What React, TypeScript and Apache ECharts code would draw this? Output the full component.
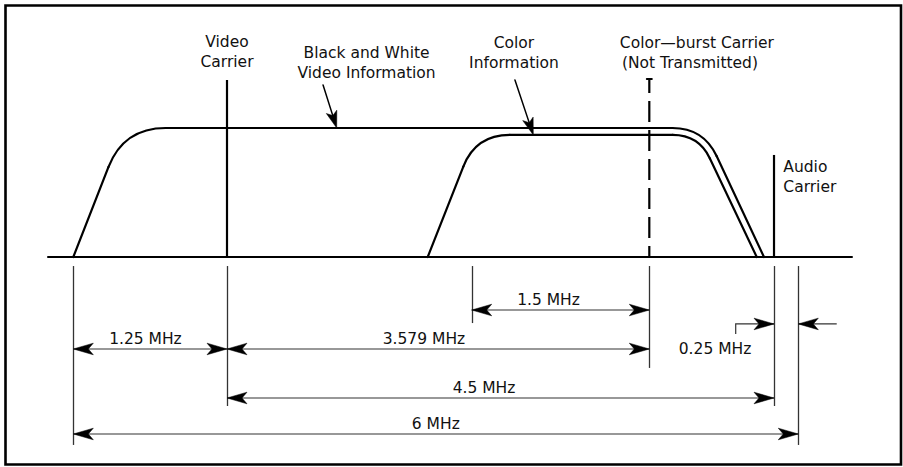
import React, { useEffect, useRef } from "react";
import * as echarts from "echarts";

// ---------------- DATA ----------------
// x: position along the channel in MHz (as drawn), y: relative level (baseline 0, B&W peak 1)
const baselineExtent = [-0.209, 6.444];

const spectrumNames = ["Black and White Video Information", "Color Information"];
const spectrumBaseLeft = [0, 2.933];
const spectrumTopLeft = [0.417, 3.331];
const spectrumTopRight = [5.215, 5.176];
const spectrumBaseRight = [5.716, 5.656];
const spectrumLevel = [1.0, 0.946];

const carrierNames = ["Video Carrier", "Color-burst Carrier", "Audio Carrier"];
const carrierFreq = [1.272, 4.767, 5.799];
const carrierHeight = [1.372, 1.38, 0.791];

const extensionFreq = [0, 1.272, 3.297, 4.767, 5.799, 6.0];
const extensionEnd = [-1.457, -1.155, -0.512, -0.86, -1.155, -1.457];
const extensionStart = -0.07;

const dimLabels = ["1.25 MHz", "3.579 MHz", "1.5 MHz", "4.5 MHz", "6 MHz"];
const dimFrom = [0, 1.272, 3.297, 1.272, 0];
const dimTo = [1.272, 4.767, 4.767, 5.799, 6.0];
const dimLevel = [-0.713, -0.713, -0.411, -1.093, -1.372];

const gapLabel = "0.25 MHz";
const gapFrom = 5.799;
const gapTo = 6.0;
const gapLevel = -0.519;

const annotationTexts = [
  "Video", "Carrier",
  "Black and White", "Video Information",
  "Color", "Information",
  "Color\u2014burst Carrier", "(Not Transmitted)",
  "Audio", "Carrier",
];

// ---------------- LAYOUT (anchors in data units) ----------------
const dimLabelAt = [0.597, 2.902, 3.933, 3.399, 3.0];
const gapHookAt = [5.482, -0.597];
const gapRightTail = 6.318;
const gapLabelAt = [5.311, -0.713];
const annotationX = [1.272, 1.272, 2.427, 2.427, 3.647, 3.647, 5.161, 5.103, 5.876, 5.876];
const annotationY = [1.667, 1.512, 1.581, 1.426, 1.659, 1.504, 1.659, 1.504, 0.698, 0.543];
const leaderFrom = [[2.067, 1.333], [3.655, 1.372]];
const leaderTo = [[2.18, 1.0], [3.807, 0.946]];

const W = 903;
const H = 467;
const FONT = "'DejaVu Sans', sans-serif";
const FS = 15.5;
const INK = "#000";
const THIN = "#333";
const cornerCut = [[42, 31], [34, 26]];

type P = number[];

function arrowHead(tip: P, from: P, L = 20, Wd = 5.8, N = 15) {
  const dx = tip[0] - from[0];
  const dy = tip[1] - from[1];
  const len = Math.hypot(dx, dy) || 1;
  const ux = dx / len;
  const uy = dy / len;
  const px = -uy;
  const py = ux;
  return {
    type: "polygon",
    shape: {
      points: [
        [tip[0], tip[1]],
        [tip[0] - ux * L + px * Wd, tip[1] - uy * L + py * Wd],
        [tip[0] - ux * N, tip[1] - uy * N],
        [tip[0] - ux * L - px * Wd, tip[1] - uy * L - py * Wd],
      ],
    },
    style: { fill: INK, stroke: INK, lineWidth: 0.5 },
  };
}

function seg(a: P, b: P, lineWidth: number, stroke = INK, extra: any = {}) {
  return {
    type: "line",
    shape: { x1: a[0], y1: a[1], x2: b[0], y2: b[1] },
    style: { stroke, lineWidth, lineCap: "round", ...extra },
  };
}

function along(from: P, to: P, d: number): P {
  const dx = to[0] - from[0];
  const dy = to[1] - from[1];
  const len = Math.hypot(dx, dy) || 1;
  return [from[0] + (dx / len) * d, from[1] + (dy / len) * d];
}

function text(str: string, p: P, align = "center") {
  return {
    type: "text",
    x: p[0],
    y: p[1],
    style: {
      text: str,
      fontFamily: FONT,
      fontSize: FS,
      fill: "#111",
      align,
      verticalAlign: "middle",
    },
  };
}

const base = {
  type: "custom",
  coordinateSystem: "cartesian2d",
  clip: false,
  silent: true,
};

function buildOption() {
  return {
    animation: false,
    backgroundColor: "#fff",
    grid: {
      left: 73.3,
      right: W - 798.3,
      top: 128,
      bottom: H - 257,
      containLabel: false,
      outerBoundsMode: "none",
    },
    xAxis: { type: "value", min: 0, max: 6, show: false },
    yAxis: { type: "value", min: 0, max: 1, show: false },
    graphic: [
      {
        type: "rect",
        silent: true,
        shape: { x: 5.5, y: 5.5, width: 895.5, height: 459 },
        style: { fill: "none", stroke: INK, lineWidth: 2.6 },
      },
    ],
    series: [
      {
        ...base,
        name: "Baseline",
        encode: { x: [0, 1] },
        data: [[baselineExtent[0], baselineExtent[1]]],
        renderItem: (_p: any, api: any) => {
          const a = api.coord([api.value(0), 0]);
          const b = api.coord([api.value(1), 0]);
          return seg(a, b, 2.2);
        },
      },
      {
        ...base,
        name: "Spectrum",
        encode: { x: [0, 1, 2, 3], y: 4 },
        data: spectrumNames.map((n, i) => ({
          name: n,
          value: [spectrumBaseLeft[i], spectrumTopLeft[i], spectrumTopRight[i], spectrumBaseRight[i], spectrumLevel[i]],
        })),
        renderItem: (params: any, api: any) => {
          const lvl = api.value(4);
          const p0 = api.coord([api.value(0), 0]);
          const p1 = api.coord([api.value(1), lvl]);
          const p2 = api.coord([api.value(2), lvl]);
          const p3 = api.coord([api.value(3), 0]);
          const cut = cornerCut[params.dataIndex];
          const a = along(p1, p0, cut[0]);
          const b = along(p1, p2, cut[0]);
          const c = along(p2, p1, cut[1]);
          const d = along(p2, p3, cut[1]);
          const st = { stroke: INK, lineWidth: 2.2, fill: "none", lineCap: "round" };
          return {
            type: "group",
            children: [
              seg(p0, a, 2.2),
              { type: "bezierCurve", shape: { x1: a[0], y1: a[1], cpx1: p1[0], cpy1: p1[1], x2: b[0], y2: b[1] }, style: st },
              seg(b, c, 2.2),
              { type: "bezierCurve", shape: { x1: c[0], y1: c[1], cpx1: p2[0], cpy1: p2[1], x2: d[0], y2: d[1] }, style: st },
              seg(d, p3, 2.2),
            ],
          };
        },
      },
      {
        ...base,
        name: "Carriers",
        encode: { x: 0, y: 1 },
        data: carrierNames.map((n, i) => ({ name: n, value: [carrierFreq[i], carrierHeight[i]] })),
        renderItem: (params: any, api: any) => {
          const top = api.coord([api.value(0), api.value(1)]);
          const bot = api.coord([api.value(0), 0]);
          if (params.dataIndex === 1) {
            return {
              type: "group",
              children: [
                {
                  type: "line",
                  shape: { x1: top[0], y1: top[1], x2: bot[0], y2: bot[1] },
                  style: { stroke: INK, lineWidth: 2.2, lineDash: [21, 8], lineDashOffset: 7 },
                },
                seg([top[0] - 2.5, top[1]], [top[0] + 2.5, top[1]], 2),
              ],
            };
          }
          return seg(top, bot, 2.2, INK, { lineCap: "butt" });
        },
      },
      {
        ...base,
        name: "Extension lines",
        encode: { x: 0, y: 1 },
        data: extensionFreq.map((f, i) => [f, extensionEnd[i]]),
        renderItem: (_p: any, api: any) => {
          const a = api.coord([api.value(0), extensionStart]);
          const b = api.coord([api.value(0), api.value(1)]);
          return seg([Math.round(a[0]) + 0.5, a[1]], [Math.round(b[0]) + 0.5, b[1]], 1.3, THIN, { lineCap: "butt" });
        },
      },
      {
        ...base,
        name: "Dimensions",
        encode: { x: [0, 1], y: 2 },
        data: dimLabels.map((n, i) => ({ name: n, value: [dimFrom[i], dimTo[i], dimLevel[i]] })),
        renderItem: (params: any, api: any) => {
          const y = api.value(2);
          const a = api.coord([api.value(0), y]);
          const b = api.coord([api.value(1), y]);
          const lab = api.coord([dimLabelAt[params.dataIndex], y]);
          return {
            type: "group",
            children: [
              seg(a, b, 1.2, THIN, { lineCap: "butt" }),
              arrowHead(a, b),
              arrowHead(b, a),
              text(dimLabels[params.dataIndex], [lab[0], lab[1] - 10]),
            ],
          };
        },
      },
      {
        ...base,
        name: "Audio gap",
        encode: { x: [0, 1], y: 2 },
        data: [{ name: gapLabel, value: [gapFrom, gapTo, gapLevel] }],
        renderItem: (_p: any, api: any) => {
          const y = api.value(2);
          const tipL = api.coord([api.value(0), y]);
          const tipR = api.coord([api.value(1), y]);
          const hookTop = api.coord([gapHookAt[0], y]);
          const hookBot = api.coord([gapHookAt[0], gapHookAt[1]]);
          const tailR = api.coord([gapRightTail, y]);
          const lab = api.coord(gapLabelAt);
          return {
            type: "group",
            children: [
              {
                type: "polyline",
                shape: { points: [hookBot, hookTop, tipL] },
                style: { stroke: THIN, lineWidth: 1.2, fill: "none" },
              },
              arrowHead(tipL, hookTop),
              seg(tailR, tipR, 1.2, THIN, { lineCap: "butt" }),
              arrowHead(tipR, tailR),
              text(gapLabel, lab),
            ],
          };
        },
      },
      {
        ...base,
        name: "Leaders",
        encode: { x: [0, 2], y: [1, 3] },
        data: leaderFrom.map((f, i) => [f[0], f[1], leaderTo[i][0], leaderTo[i][1]]),
        renderItem: (_p: any, api: any) => {
          const a = api.coord([api.value(0), api.value(1)]);
          const b = api.coord([api.value(2), api.value(3)]);
          return {
            type: "group",
            children: [seg(a, along(b, a, 8), 1.5), arrowHead(b, a, 17, 5.5, 13)],
          };
        },
      },
      {
        ...base,
        name: "Annotations",
        encode: { x: 0, y: 1 },
        data: annotationTexts.map((t, i) => ({ name: t, value: [annotationX[i], annotationY[i]] })),
        renderItem: (params: any, api: any) => {
          const p = api.coord([api.value(0), api.value(1)]);
          const align = params.dataIndex >= 8 ? "left" : "center";
          return text(annotationTexts[params.dataIndex], p, align);
        },
      },
    ],
  };
}

export default function App() {
  const ref = useRef<HTMLDivElement>(null);
  useEffect(() => {
    if (!ref.current) return;
    const chart = echarts.init(ref.current, null, { renderer: "svg" });
    chart.setOption(buildOption() as any);
    return () => chart.dispose();
  }, []);
  return (
    <div
      ref={ref}
      style={{ position: "fixed", left: 0, top: 0, width: W, height: H, background: "#fff" }}
    />
  );
}
